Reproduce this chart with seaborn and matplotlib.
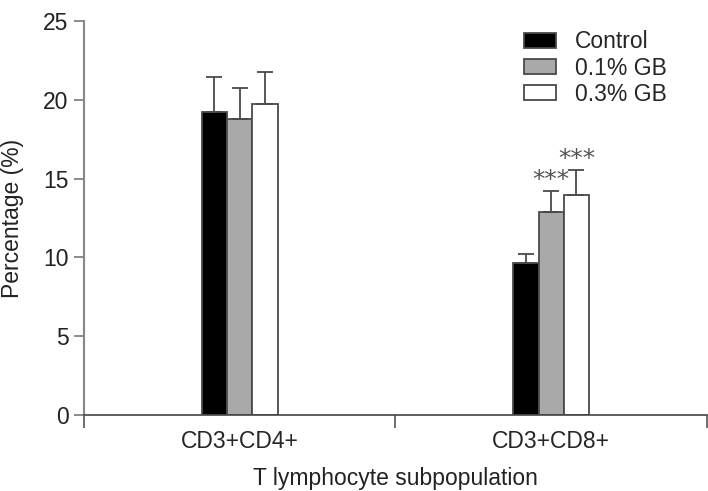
"""Bar chart of T lymphocyte subpopulations by GB dose."""

import matplotlib
matplotlib.use("Agg")
import matplotlib.pyplot as plt
import pandas as pd
import seaborn as sns

subsets = ["CD3+CD4+", "CD3+CD8+"]
groups = ["Control", "0.1% GB", "0.3% GB"]
means = {
    "Control": [19.25, 9.62],
    "0.1% GB": [18.76, 12.86],
    "0.3% GB": [19.71, 13.94],
}
errors = {
    "Control": [2.18, 0.58],
    "0.1% GB": [2.0, 1.37],
    "0.3% GB": [2.05, 1.6],
}
stars = {
    "Control": ["", ""],
    "0.1% GB": ["", "***"],
    "0.3% GB": ["", "***"],
}
colors = ["#000000", "#a9a9a9", "#ffffff"]

sns.set_style("ticks")
plt.rcParams["font.family"] = ["Liberation Sans", "DejaVu Sans"]
plt.rcParams["font.size"] = 16.5

rows = []
for g in groups:
    for s, m in zip(subsets, means[g]):
        rows.append({"subset": s, "group": g, "value": m})
df = pd.DataFrame(rows)

fig = plt.figure(figsize=(7.08, 4.91), dpi=100)
ax = fig.add_axes([0.1186, 0.1548, 0.88, 0.8022])

sns.barplot(data=df, x="subset", y="value", hue="group", order=subsets,
            hue_order=groups, palette=colors, width=0.243, errorbar=None,
            edgecolor="#4a4a4a", linewidth=1.3, saturation=1, ax=ax)

for g, cont in zip(groups, ax.containers):
    for bar, err, star in zip(cont, errors[g], stars[g]):
        x = bar.get_x() + bar.get_width() / 2
        top = bar.get_height()
        ax.errorbar(x, top, yerr=[[0], [err]], fmt="none", ecolor="#4a4a4a",
                    elinewidth=1.3, capsize=6, capthick=1.3, zorder=1)
        if star:
            ax.text(x, top + err + 0.25, star, ha="center", va="baseline",
                    fontsize=18, family="DejaVu Sans", color="#555555")

ax.set_ylim(0, 25)
ax.set_xlim(-0.5, 1.5)
ax.set_yticks([0, 5, 10, 15, 20, 25])
ax.set_xticks([-0.5, 0.5, 1.5])
ax.set_xticklabels([])
ax.set_xticks([0, 1], minor=True)
ax.set_xticklabels(subsets, minor=True)
ax.tick_params(axis="x", which="minor", length=0, pad=11)
ax.tick_params(axis="x", which="major", length=9, width=1.2, color="#555555")
ax.tick_params(axis="y", length=7, width=1.2, color="#777777", pad=4)
ax.tick_params(labelcolor="#222222")

sns.despine(ax=ax)
ax.spines["left"].set_color("#888888")
ax.spines["left"].set_linewidth(1.5)
ax.spines["bottom"].set_color("#444444")
ax.spines["bottom"].set_linewidth(1.2)

ax.set_xlabel("T lymphocyte subpopulation", color="#222222", labelpad=10)
ax.set_ylabel("Percentage (%)", color="#222222", labelpad=14)

ax.legend(loc="upper left", bbox_to_anchor=(524 / 708, 0.938),
          bbox_transform=fig.transFigure, frameon=False, borderpad=0,
          borderaxespad=0, handlelength=1.4, handleheight=0.65,
          handletextpad=0.83, labelspacing=0.14, fontsize=16.5)

fig.savefig("out.png", dpi=100)
